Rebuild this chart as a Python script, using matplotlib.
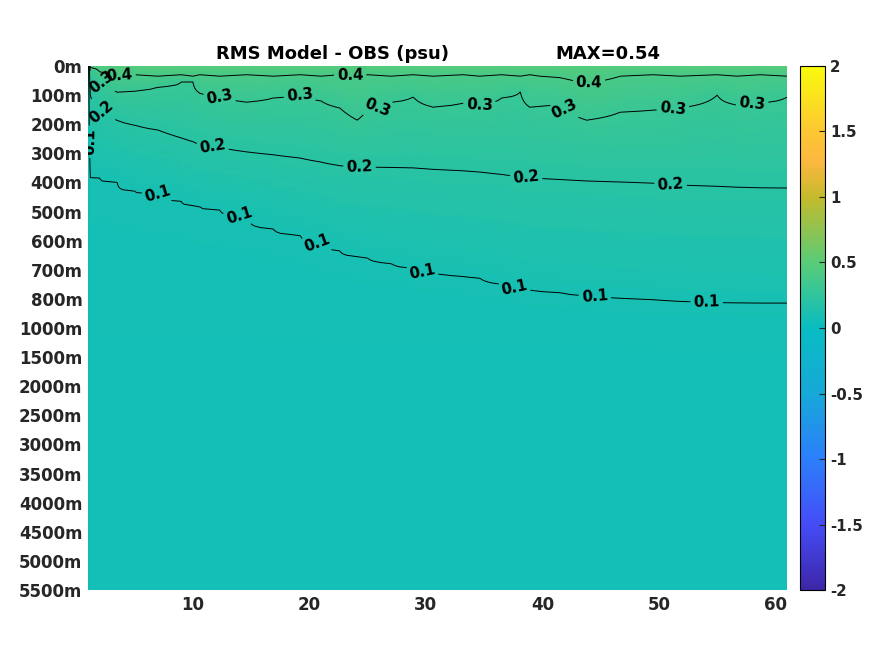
import matplotlib
matplotlib.use('Agg')
import matplotlib.pyplot as plt
import numpy as np
from matplotlib.colors import LinearSegmentedColormap

plt.rcParams['font.family'] = 'DejaVu Sans'
plt.rcParams['font.weight'] = 'bold'

# depth level labels (index based axis)
depth_labels = ['0m', '100m', '200m', '300m', '400m', '500m', '600m', '700m', '800m',
                '1000m', '1500m', '2000m', '2500m', '3000m', '3500m', '4000m',
                '4500m', '5000m', '5500m']

# time axis samples (months)
months = [1.2, 2, 3.5, 5, 7, 9, 10, 10.6, 12.3, 14.6, 16.9, 19.2, 21, 22.6, 24.1, 25,
          27, 28.9, 30.6, 33.2, 34.6, 36.5, 38.1, 38.9, 41.5, 43.8, 46.7, 49.5, 51.8,
          55, 56.7, 58.7, 61]

# depth (level index) where rms crosses each value
depth_04 = [0.05, 0.2, 0.35, 0.3, 0.35, 0.3, 0.35, 0.3, 0.35, 0.3, 0.35, 0.3, 0.35,
            0.3, 0.35, 0.3, 0.35, 0.3, 0.35, 0.3, 0.35, 0.3, 0.35, 0.3, 0.4, 0.6,
            0.35, 0.3, 0.35, 0.3, 0.35, 0.3, 0.35]
depth_03 = [0.14, 0.48, 0.9, 0.86, 0.72, 0.55, 0.55, 0.93, 1.06, 1.24, 1.10, 1.0, 1.2,
            1.44, 1.86, 1.51, 1.25, 1.06, 1.41, 1.27, 1.34, 1.1, 0.89, 1.41, 1.3,
            1.86, 1.58, 1.51, 1.44, 1.0, 1.34, 1.27, 1.06]
depth_02 = [1.0, 1.5, 1.86, 2.03, 2.2, 2.47, 2.6, 2.7, 2.8, 2.95, 3.05, 3.16, 3.3,
            3.42, 3.47, 3.47, 3.48, 3.5, 3.55, 3.6, 3.64, 3.72, 3.81, 3.84, 3.9,
            3.95, 3.98, 4.02, 4.09, 4.13, 4.16, 4.18, 4.19]
depth_01 = [3.81, 3.85, 4.0, 4.3, 4.4, 4.65, 4.78, 4.82, 4.95, 5.15, 5.6, 5.81, 6.1,
            6.35, 6.55, 6.6, 6.78, 6.95, 7.1, 7.22, 7.28, 7.5, 7.66, 7.7, 7.78, 7.9,
            7.97, 8.02, 8.08, 8.12, 8.13, 8.14, 8.14]
surface_rms = 0.47
deep_rms = [0.075, 0.065]  # at level 10 and 18
initial_rms = 0.03         # first month, everywhere
max_rms = 0.54

# months where the contour labels sit
label_months = {0.4: [3.7, 23.5, 44],
                0.3: [2.2, 12.3, 19.2, 25.8, 34.6, 42, 51.2, 58],
                0.2: [2.2, 11.7, 24.3, 38.6, 51],
                0.1: [7, 14, 20.7, 29.7, 37.6, 44.5, 54.1]}

# parula-like colormap
parula = LinearSegmentedColormap.from_list('parula', [
    (0.0, (0.24, 0.15, 0.66)),
    (0.125, (0.27, 0.30, 0.97)),
    (0.25, (0.17, 0.50, 0.98)),
    (0.375, (0.09, 0.66, 0.85)),
    (0.5, (0.03, 0.74, 0.76)),
    (0.625, (0.35, 0.80, 0.47)),
    (0.75, (0.77, 0.73, 0.17)),
    (0.82, (0.99, 0.72, 0.25)),
    (0.875, (0.99, 0.78, 0.20)),
    (1.0, (0.98, 0.98, 0.05))])

# build field from the crossing depths
lev = np.linspace(0, 18, 361)
x = np.array([1.0] + months)
field = np.zeros((len(lev), len(x)))
field[:, 0] = initial_rms
for j in range(len(months)):
    d = [0, depth_04[j], depth_03[j], depth_02[j], depth_01[j], 10, 18]
    v = [surface_rms, 0.4, 0.3, 0.2, 0.1, deep_rms[0], deep_rms[1]]
    field[:, j + 1] = np.interp(lev, d, v)

depth_of = {0.4: depth_04, 0.3: depth_03, 0.2: depth_02, 0.1: depth_01}
spots = []
for val, ms in label_months.items():
    for m in ms:
        spots.append((m, np.interp(m, months, depth_of[val])))
spots.append((1.05, 2.6))

fig = plt.figure(figsize=(8.75, 6.56), dpi=100)
ax = fig.add_axes([0.1006, 0.1006, 0.7989, 0.7988])
pm = ax.pcolormesh(x, lev, field, cmap=parula, vmin=-2, vmax=2, shading='gouraud')
cs = ax.contour(x, lev, field, levels=[0.1, 0.2, 0.3, 0.4], colors='k', linewidths=0.7)
ax.clabel(cs, fmt='%.1f', fontsize=10.8, inline=True, inline_spacing=3, manual=spots)
for t in cs.labelTexts:
    t.set_fontweight('bold')
ax.set_xlim(1, 61)
ax.set_ylim(18, 0)
ax.set_yticks(range(len(depth_labels)))
ax.set_yticklabels(depth_labels)
ax.set_xticks([10, 20, 30, 40, 50, 60])
ax.tick_params(length=0, labelsize=12, colors='#262626', pad=4)
for s in ax.spines.values():
    s.set_visible(False)

ax.text(0.35, 1.006, 'RMS Model - OBS (psu)', transform=ax.transAxes, ha='center',
        va='bottom', fontsize=13, fontweight='bold')
ax.text(0.744, 1.006, 'MAX=%.2f' % max_rms, transform=ax.transAxes, ha='center',
        va='bottom', fontsize=13, fontweight='bold')

cax = fig.add_axes([0.9143, 0.1006, 0.0286, 0.7988])
cb = fig.colorbar(pm, cax=cax, ticks=[-2, -1.5, -1, -0.5, 0, 0.5, 1, 1.5, 2])
cb.set_ticklabels(['-2', '-1.5', '-1', '-0.5', '0', '0.5', '1', '1.5', '2'])
cax.tick_params(direction='in', length=4, labelsize=10.8, colors='#262626', width=0.8)
cb.outline.set_linewidth(0.8)

fig.savefig('out.png', dpi=100)
